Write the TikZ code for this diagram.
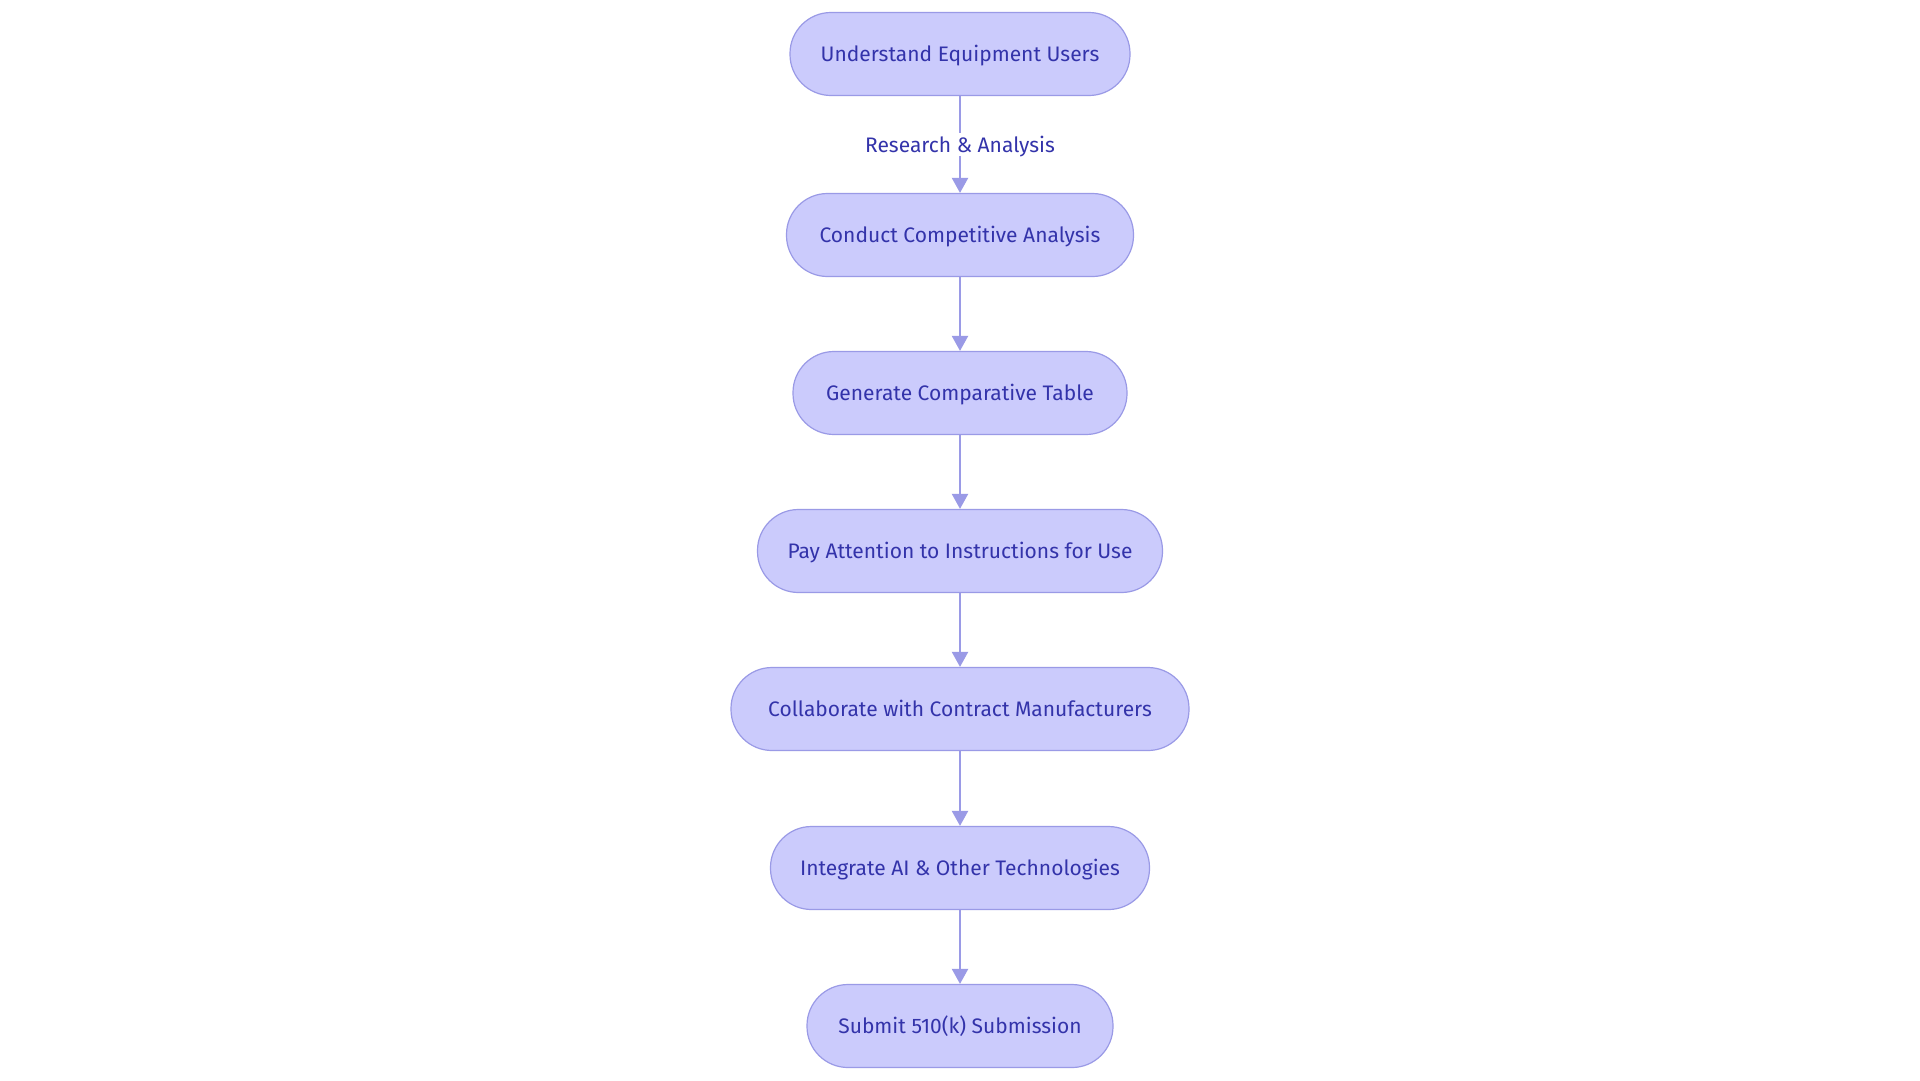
\documentclass[tikz,border=0pt]{standalone}
\usepackage{fontspec}
\setmainfont{Fira Sans}
\usetikzlibrary{arrows.meta}
\definecolor{nodefill}{HTML}{CBCBFC}
\definecolor{nodeline}{HTML}{9A9AE6}
\definecolor{txt}{HTML}{3333AA}
\begin{document}
\begin{tikzpicture}[x=1pt,y=-1pt,
  stepbox/.style={draw=nodeline,fill=nodefill,line width=1.2pt,rounded corners=41pt,
    minimum height=83pt,inner sep=0pt,text=txt,font=\fontsize{21}{24}\selectfont,
    text height=16pt,text depth=1pt},
  flow/.style={draw=nodeline,line width=2.2pt,-{Triangle[width=16pt,length=15pt]}},
  lbl/.style={fill=white,text=txt,font=\fontsize{21}{24}\selectfont,inner sep=3pt,
    text height=16pt,text depth=1pt}]
\fill[white] (0,0) rectangle (1920,1080);
\useasboundingbox (0,0) rectangle (1920,1080);
\node[stepbox,minimum width=340pt] (n1) at (960,54) {Understand Equipment Users};
\node[stepbox,minimum width=347pt] (n2) at (960,235) {Conduct Competitive Analysis};
\node[stepbox,minimum width=334pt] (n3) at (960,393) {Generate Comparative Table};
\node[stepbox,minimum width=405pt] (n4) at (960,551) {Pay Attention to Instructions for Use};
\node[stepbox,minimum width=458pt] (n5) at (960,709) {Collaborate with Contract Manufacturers};
\node[stepbox,minimum width=379pt] (n6) at (960,868) {Integrate AI \& Other Technologies};
\node[stepbox,minimum width=306pt] (n7) at (960,1026) {Submit 510(k) Submission};
\draw[flow] (n1) -- node[lbl,pos=0.5] (l1) {Research \& Analysis} (n2);
\draw[flow] (n2) -- (n3);
\draw[flow] (n3) -- (n4);
\draw[flow] (n4) -- (n5);
\draw[flow] (n5) -- (n6);
\draw[flow] (n6) -- (n7);
\end{tikzpicture}
\end{document}
